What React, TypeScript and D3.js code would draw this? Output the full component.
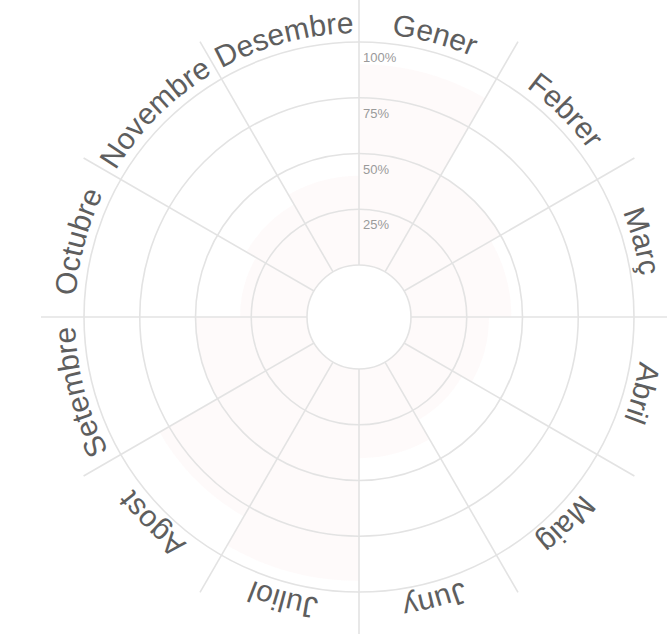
import React from "react";
import * as d3 from "d3";

const months = ["Gener","Febrer","Març","Abril","Maig","Juny","Juliol","Agost","Setembre","Octubre","Novembre","Desembre"];
const values = [0.9, 0.5, 0.45, 0.35, 0.3, 0.4, 0.95, 0.8, 0.5, 0.3, 0.35, 0.4];
const ticks = [0.25, 0.5, 0.75, 1];
const tickLabels = ["25%", "50%", "75%", "100%"];

const W = 667, H = 634;
const cx = 359, cy = 317;
const inner = 52, outer = 275, spoke = 318, labelR = 284;

export default function App() {
  const r = d3.scaleLinear().domain([0, 1]).range([inner, outer]);
  const x = d3.scaleBand().domain(months).range([0, 2 * Math.PI]).paddingInner(0).paddingOuter(0);
  const arc = d3.arc<any>()
    .innerRadius(inner)
    .outerRadius((d: any) => r(d.v))
    .startAngle((d: any) => x(d.m)!)
    .endAngle((d: any) => x(d.m)! + x.bandwidth());
  const data = months.map((m, i) => ({ m, v: values[i] }));
  const labelPath = (m: string) => {
    const mid = x(m)! + x.bandwidth() / 2;
    const p = d3.path();
    const a0 = mid - Math.PI / 3 - Math.PI / 2;
    const a1 = mid + Math.PI / 3 - Math.PI / 2;
    p.moveTo(labelR * Math.cos(a0), labelR * Math.sin(a0));
    p.arc(0, 0, labelR, a0, a1);
    return p.toString();
  };
  const grid = "#e3e3e3";
  return (
    <svg width={W} height={H} style={{ position: "absolute", left: 0, top: 0, background: "#fff" }}
      fontFamily="'Liberation Sans', Arial, Helvetica, sans-serif">
      <g transform={`translate(${cx},${cy})`}>
        {data.map((d, i) => (
          <path key={i} d={arc(d) as string} fill="#f6d6d6" fillOpacity={0.12} />
        ))}
        {[0, ...ticks].map((t, i) => (
          <circle key={i} r={r(t)} fill="none" stroke={grid} strokeWidth={1.6} />
        ))}
        {months.map((m, i) => {
          const a = x(m)! - Math.PI / 2;
          return (
            <line key={i} x1={inner * Math.cos(a)} y1={inner * Math.sin(a)}
              x2={spoke * Math.cos(a)} y2={spoke * Math.sin(a)} stroke={grid} strokeWidth={1.6} />
          );
        })}
        {ticks.map((t, i) => (
          <text key={i} x={4} y={-r(t) + 20} fontSize={13} fill="#9a9a9a">{tickLabels[i]}</text>
        ))}
        <defs>
          {months.map((m, i) => (
            <path key={i} id={`lp${i}`} d={labelPath(m)} />
          ))}
        </defs>
        {months.map((m, i) => (
          <text key={i} fontSize={30} fill="#5e5e5e" textAnchor="middle">
            <textPath href={`#lp${i}`} startOffset="50%">{m}</textPath>
          </text>
        ))}
      </g>
    </svg>
  );
}
